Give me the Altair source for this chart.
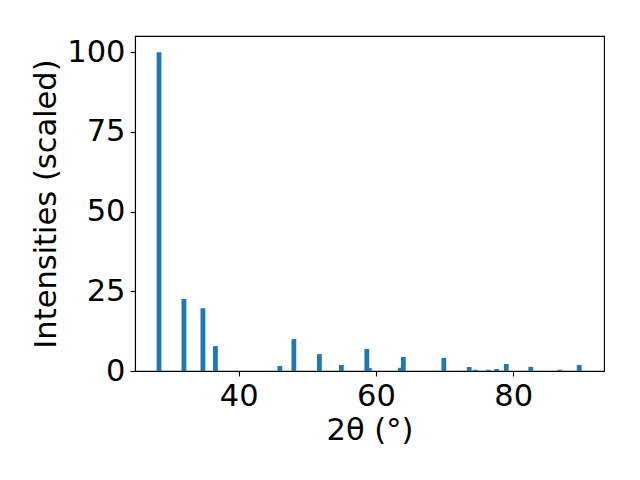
import altair as alt
import pandas as pd

two_theta = [28.4, 32.03, 34.80, 36.62, 46.01, 48.05, 51.77, 54.97, 58.68, 59.05,
             63.56, 64.0, 69.9, 73.6, 74.48, 76.38, 77.6, 79.0, 82.57, 86.79, 89.63]
intensity = [100, 22.6, 19.7, 7.8, 1.6, 10.0, 5.3, 1.9, 6.9, 0.9,
             1.0, 4.4, 4.1, 1.25, 0.4, 0.4, 0.65, 2.2, 1.3, 0.4, 1.9]
x_ticks = [40, 60, 80]
y_ticks = [0, 25, 50, 75, 100]

df = pd.DataFrame({"tt": two_theta, "I": intensity})
bar_w = 0.7

chart = alt.Chart(df).transform_calculate(
    x0=f"datum.tt - {bar_w/2}", x1=f"datum.tt + {bar_w/2}", base="0"
).mark_bar(color="#1f77b4", clip=True).encode(
    x=alt.X("x0:Q", scale=alt.Scale(domain=[24.9, 93.24], nice=False, zero=False),
            axis=alt.Axis(values=x_ticks, title="2θ (°)", format="d")),
    x2="x1:Q",
    y=alt.Y("I:Q", scale=alt.Scale(domain=[0, 105.1], nice=False),
            axis=alt.Axis(values=y_ticks, title="Intensities (scaled)")),
    y2="base:Q",
).properties(
    width=469, height=335,
    autosize=alt.AutoSizeParams(type="none"),
    padding={"left": 127, "top": 28, "right": 28, "bottom": 101},
).configure_view(
    stroke="black", strokeWidth=1.1
).configure_axis(
    grid=False,
    domain=True, domainColor="black", domainWidth=1.1,
    tickColor="black", tickSize=5, tickWidth=1.1,
    labelFont="DejaVu Sans", labelFontSize=30.5, labelColor="black",
    labelPadding=5,
    titleFont="DejaVu Sans", titleFontSize=30.5, titleColor="black",
    titleFontWeight="normal",
).configure_axisY(
    titlePadding=5,
).configure_axisX(
    titlePadding=4,
)

chart.save("out.html", embed_options={"renderer": "svg", "actions": False})
